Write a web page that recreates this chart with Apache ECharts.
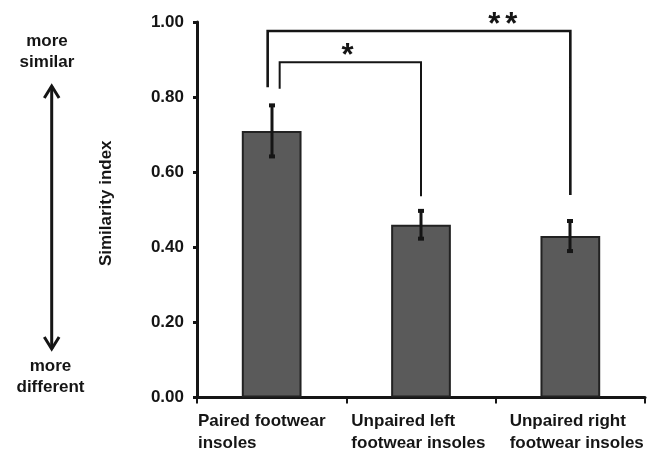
<!DOCTYPE html>
<html><head><meta charset="utf-8">
<script src="https://cdn.jsdelivr.net/npm/echarts@6/dist/echarts.min.js"></script>
<style>html,body{margin:0;padding:0;background:#fff}#c{width:662px;height:452px}</style>
</head><body><div id="c"></div>
<script>
// ---- data ----
const categories = ['Paired footwear\ninsoles', 'Unpaired left\nfootwear insoles', 'Unpaired right\nfootwear insoles'];
const means = [0.71, 0.46, 0.43];
const errors = [0.068, 0.037, 0.04];
const bracketFrom = [0, 0];
const bracketTo = [2, 1];
const bracketTop = [0.976, 0.8925];
const bracketLeftEnd = [0.826, 0.8225];
const bracketRightEnd = [0.539, 0.536];
const bracketMarks = ['**', '*'];
const yAxisTitle = 'Similarity index';
const topNote = 'more\nsimilar';
const bottomNote = 'more\ndifferent';

// ---- styles ----
const FONT = '"Liberation Sans", Arial, Helvetica, sans-serif';
const INK = '#151515';
const bracketLook = [{shift: -4, lw: 2.6, at: 0.777}, {shift: 8, lw: 2, at: 0.48}];
const labelPad = [1, 5, 14, 0];

const chart = echarts.init(document.getElementById('c'), null, {renderer: 'canvas'});

const rich = {};
labelPad.forEach((p, i) => {
  rich['l' + i] = {padding: [0, 0, 0, p], fontSize: 17, fontWeight: 'bold', fontFamily: FONT, color: INK, lineHeight: 22};
});

const option = {
  animation: false,
  backgroundColor: '#fff',
  grid: {left: 197, right: 17, top: 22, bottom: 53, containLabel: false},
  xAxis: [
    {
      type: 'category', data: categories,
      axisLine: {lineStyle: {color: INK, width: 3}},
      axisTick: {show: true, length: 6, interval: 0, lineStyle: {color: INK, width: 2}},
      axisLabel: {show: false},
      splitLine: {show: false}
    },
    {
      type: 'category', data: categories.concat(['']), boundaryGap: false, position: 'bottom',
      axisLine: {show: false}, axisTick: {show: false}, splitLine: {show: false},
      axisLabel: {
        interval: 0, align: 'left', margin: 13,
        formatter: (v, i) => v ? v.split('\n').map(s => '{l' + i + '|' + s + '}').join('\n') : '',
        rich: rich
      }
    }
  ],
  yAxis: {
    type: 'value', min: 0, max: 1, interval: 0.2,
    name: yAxisTitle, nameLocation: 'middle', nameGap: 82,
    nameTextStyle: {fontSize: 17, fontWeight: 'bold', fontFamily: FONT, color: INK, padding: [0, 0, 0, 13]},
    axisLine: {show: true, lineStyle: {color: INK, width: 3}},
    axisTick: {show: true, length: 4, lineStyle: {color: INK, width: 3}},
    axisLabel: {fontSize: 17, fontWeight: 'bold', fontFamily: FONT, color: INK, margin: 13, formatter: v => v.toFixed(2)},
    splitLine: {show: false}
  },
  series: [
    {
      type: 'bar', data: means, barWidth: '40%', xAxisIndex: 0,
      itemStyle: {color: '#5a5a5a', borderColor: '#222', borderWidth: 2}
    },
    {
      type: 'custom', xAxisIndex: 0, z: 5,
      data: means.map((m, i) => [i, m - errors[i], m + errors[i]]),
      encode: {x: 0, y: [1, 2]},
      renderItem: (params, api) => {
        const lo = api.coord([api.value(0), api.value(1)]);
        const hi = api.coord([api.value(0), api.value(2)]);
        const x = Math.round(lo[0]);
        const st = {fill: INK};
        return {type: 'group', children: [
          {type: 'line', shape: {x1: x, y1: lo[1], x2: x, y2: hi[1]}, style: {stroke: INK, lineWidth: 3}},
          {type: 'rect', shape: {x: x - 3, y: hi[1] - 2, width: 6, height: 4}, style: st},
          {type: 'rect', shape: {x: x - 3, y: lo[1] - 2, width: 6, height: 4}, style: st}
        ]};
      }
    },
    {
      type: 'custom', xAxisIndex: 0, z: 6, clip: false,
      data: bracketFrom.map((f, i) => [f, bracketTo[i], bracketTop[i], bracketLeftEnd[i], bracketRightEnd[i]]),
      encode: {x: [0, 1], y: [2, 3, 4]},
      renderItem: (params, api) => {
        const i = params.dataIndex;
        const look = bracketLook[i];
        const a = api.coord([api.value(0), api.value(2)]);
        const b = api.coord([api.value(1), api.value(2)]);
        const la = api.coord([api.value(0), api.value(3)]);
        const rb = api.coord([api.value(1), api.value(4)]);
        const lx = a[0] + look.shift, rx = b[0], ty = a[1];
        const children = [{
          type: 'polyline',
          shape: {points: [[lx, la[1]], [lx, ty], [rx, ty], [rx, rb[1]]]},
          style: {stroke: INK, lineWidth: look.lw, fill: null}
        }];
        const mark = bracketMarks[i];
        const cx = lx + (rx - lx) * look.at;
        const n = mark.length;
        for (let k = 0; k < n; k++) {
          children.push({
            type: 'text',
            style: {x: cx + (k - (n - 1) / 2) * 17, y: ty - 12 + 6, text: '*', fill: INK,
              font: 'bold 31px ' + FONT, textAlign: 'center', textVerticalAlign: 'middle'}
          });
        }
        return {type: 'group', children: children};
      }
    }
  ],
  graphic: [
    {type: 'text', style: {x: 47, y: 52, text: topNote, fill: INK, font: 'bold 17px ' + FONT, lineHeight: 21, textAlign: 'center', textVerticalAlign: 'middle'}},
    {type: 'text', style: {x: 50.5, y: 377, text: bottomNote, fill: INK, font: 'bold 17px ' + FONT, lineHeight: 21, textAlign: 'center', textVerticalAlign: 'middle'}},
    {type: 'line', shape: {x1: 51.7, y1: 86, x2: 51.7, y2: 349}, style: {stroke: INK, lineWidth: 3}},
    {type: 'polyline', shape: {points: [[44.3, 98], [51.7, 86], [59.1, 98]]}, style: {stroke: INK, lineWidth: 3, fill: null}},
    {type: 'polyline', shape: {points: [[44.3, 337], [51.7, 349], [59.1, 337]]}, style: {stroke: INK, lineWidth: 3, fill: null}}
  ]
};
chart.setOption(option);
</script></body></html>
